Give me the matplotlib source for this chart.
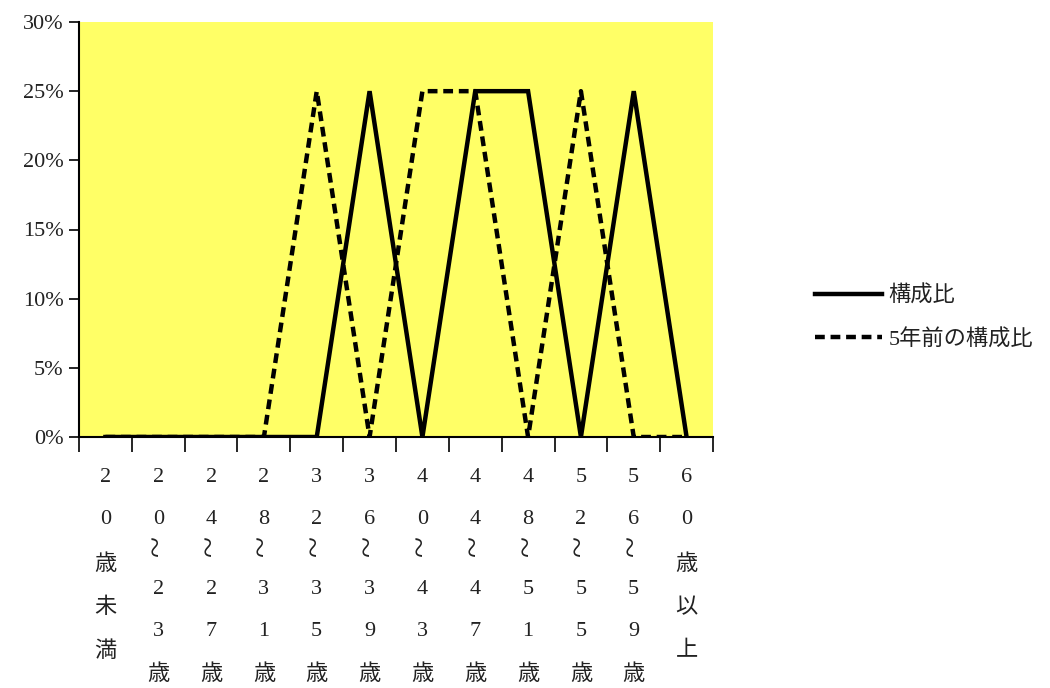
import matplotlib
matplotlib.use("Agg")
import matplotlib.pyplot as plt
from matplotlib.transforms import blended_transform_factory
import numpy as np

plt.rcParams['font.family'] = ['Liberation Serif', 'Noto Sans CJK JP', 'DejaVu Sans']

# age groups
categories = ["20歳未満", "20～23歳", "24～27歳", "28～31歳", "32～35歳", "36～39歳",
              "40～43歳", "44～47歳", "48～51歳", "52～55歳", "56～59歳", "60歳以上"]
ratio_now = [0, 0, 0, 0, 0, 25, 0, 25, 25, 0, 25, 0]
ratio_5y_ago = [0, 0, 0, 0, 25, 0, 25, 25, 0, 25, 0, 0]
y_ticks = [0, 5, 10, 15, 20, 25, 30]

W, H = 1050, 688
fig = plt.figure(figsize=(W / 100, H / 100), dpi=100)
ax = fig.add_axes([79 / W, 1 - 437 / H, (713 - 79) / W, (437 - 22) / H])
ax.set_facecolor("#FFFF66")

x = np.arange(len(categories))
ax.plot(x, ratio_now, color="black", lw=3.2, solid_joinstyle="miter", label="構成比")
ax.plot(x, ratio_5y_ago, color="black", lw=3.2, dashes=(2.2, 1.3), label="5年前の構成比")

ax.set_xlim(-0.5, len(categories) - 0.5)
ax.set_ylim(0, 30)
ax.set_yticks(y_ticks)
ax.set_yticklabels([f"{v}%" for v in y_ticks], fontsize=16, color="#222222")
ax.set_xticks(np.arange(-0.5, len(categories), 1.0))
ax.set_xticklabels([])
ax.tick_params(axis="y", direction="out", length=7, width=1.2, pad=4)
ax.tick_params(axis="x", direction="out", length=11, width=1.2)
for s in ["top", "right"]:
    ax.spines[s].set_visible(False)
for s in ["left", "bottom"]:
    ax.spines[s].set_linewidth(1.5)

# vertical category labels, one character per line
tr = blended_transform_factory(ax.transData, fig.transFigure)
for i, lab in enumerate(categories):
    if "～" in lab:
        rows = [(lab[0], 477), (lab[1], 519), ("～", 546), (lab[3], 590), (lab[4], 632), (lab[5], 675)]
    else:
        rows = [(c, py) for c, py in zip(lab, [477, 519, 565, 608, 652])]
    for c, py in rows:
        if c == "～":
            ax.text(i, 1 - py / H, "~", transform=tr, ha="center", va="center",
                    fontsize=28, rotation=90, color="#222222", family="Liberation Serif")
        else:
            ax.text(i, 1 - py / H, c, transform=tr, ha="center", va="center",
                    fontsize=16, color="#222222")

leg = fig.legend(loc="center left", bbox_to_anchor=(795 / W, 1 - 318 / H), frameon=False,
                 fontsize=16, handlelength=3.0, labelspacing=1.0, handletextpad=0.3)
for t in leg.get_texts():
    t.set_color("#222222")

fig.savefig("out.png", dpi=100)
